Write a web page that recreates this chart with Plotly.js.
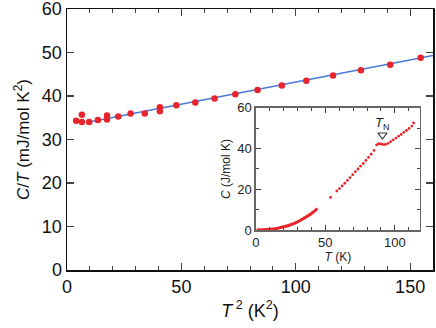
<!DOCTYPE html>
<html>
<head>
<meta charset="utf-8">
<script src="https://cdn.plot.ly/plotly-3.0.1.min.js"></script>
<style>
  body { margin: 0; background: #fff; }
  #plot { width: 436px; height: 328px; }
</style>
</head>
<body>
<div id="plot"></div>
<script>
// main panel: C/T vs T^2
var t2 = [4.0, 6.5, 6.5, 9.7, 13.5, 17.5, 17.5, 22.4, 27.8, 34.0, 40.6, 40.6, 47.8, 56.1, 64.5, 73.6, 83.3, 93.9, 104.6, 116.3, 128.5, 141.3, 154.6];
var cOverT = [34.3, 35.7, 34.0, 34.0, 34.5, 35.5, 34.6, 35.3, 36.0, 36.0, 37.4, 36.5, 37.9, 38.5, 39.4, 40.4, 41.4, 42.4, 43.5, 44.7, 45.9, 47.2, 48.8];

// linear fit
var fitT2 = [9.7, 160];
var fitCT = [34.0, 49.3];

// inset: C vs T, low-T part drawn as a dense curve
var lowT = [0.5, 5, 10, 15, 20, 25, 30, 35, 40, 44.3];
var lowC = [0.05, 0.12, 0.35, 0.8, 1.6, 2.6, 4.0, 6.0, 8.1, 10.6];

// inset: C vs T, high-T points
var highT = [53.8, 58.3, 60.2, 62.1, 64.0, 65.9, 67.8, 69.7, 71.6, 73.5, 75.4, 77.3, 79.2, 81.1, 83.0, 85.0, 86.9,
             88.3, 89.6, 90.9, 92.2, 93.5, 95.2, 97.0, 98.9, 100.8, 102.7, 104.6, 106.5, 108.4, 110.3, 112.2, 113.5];
var highC = [16.1, 19.2, 20.4, 21.7, 23.0, 24.4, 25.8, 27.2, 28.7, 30.0, 31.4, 32.7, 34.2, 35.7, 37.3, 39.1, 41.8,
             42.4, 42.3, 42.1, 42.0, 42.1, 42.6, 43.4, 44.3, 45.2, 46.1, 47.0, 48.0, 48.9, 49.9, 51.1, 52.6];

// Neel temperature marker
var tnT = [91.1];
var tnC = [46.7];

var red = '#e8242c';
var blue = '#4a78d8';

var trace1 = {
    x: fitT2, y: fitCT, mode: 'lines', type: 'scatter',
    line: {color: blue, width: 1.5}, xaxis: 'x', yaxis: 'y'
};
var trace2 = {
    x: t2, y: cOverT, mode: 'markers', type: 'scatter',
    marker: {color: red, size: 6.5}, xaxis: 'x', yaxis: 'y'
};
var trace3 = {
    x: lowT, y: lowC, mode: 'lines', type: 'scatter',
    line: {color: red, width: 3, shape: 'spline'}, xaxis: 'x2', yaxis: 'y2'
};
var trace4 = {
    x: highT, y: highC, mode: 'markers', type: 'scatter',
    marker: {color: red, size: 2.8}, xaxis: 'x2', yaxis: 'y2'
};
var trace5 = {
    x: tnT, y: tnC, mode: 'markers', type: 'scatter',
    marker: {color: '#333', size: 8, symbol: 'triangle-down-open', line: {width: 1.2}},
    xaxis: 'x2', yaxis: 'y2'
};

var data = [trace1, trace2, trace3, trace4, trace5];

var font = 'Liberation Sans, Arial, sans-serif';
var grey = '#666';

var layout = {
    width: 436, height: 328,
    margin: {l: 67, r: 3, t: 9, b: 58},
    paper_bgcolor: '#fff', plot_bgcolor: '#fff',
    showlegend: false,
    font: {family: font, size: 18, color: '#111'},
    xaxis: {
        domain: [0, 1], range: [0, 160],
        tickvals: [0, 50, 100, 150], ticks: 'inside', ticklen: 7, tickwidth: 1.2,
        minor: {dtick: 10, ticks: 'inside', ticklen: 4, tickwidth: 1},
        showline: true, linecolor: '#111', linewidth: 1.5, mirror: 'ticks',
        showgrid: false, zeroline: false,
        tickfont: {size: 18}, ticklabeloverflow: 'allow',
        title: {text: '<i>T</i><sup> 2</sup> (K<sup>2</sup>)', font: {size: 18}, standoff: 8}
    },
    yaxis: {
        domain: [0, 1], range: [0, 60],
        dtick: 10, ticks: 'inside', ticklen: 7, tickwidth: 1.2,
        showline: true, linecolor: '#111', linewidth: 1.5, mirror: 'ticks',
        showgrid: false, zeroline: false,
        tickfont: {size: 18}, ticklabeloverflow: 'allow',
        title: {text: '<i>C</i>/<i>T</i> (mJ/mol K<sup>2</sup>)', font: {size: 17}, standoff: 8}
    },
    xaxis2: {
        domain: [0.516, 0.964], range: [0, 118], anchor: 'y2',
        tickvals: [0, 50, 100], ticks: 'inside', ticklen: 5, tickwidth: 1,
        minor: {dtick: 10, ticks: 'inside', ticklen: 3, tickwidth: 1},
        showline: true, linecolor: grey, linewidth: 1.5, mirror: 'ticks',
        showgrid: false, zeroline: false,
        tickfont: {size: 13, color: '#222'},
        title: {text: '<i>T</i> (K)', font: {size: 12, color: '#222'}, standoff: 2}
    },
    yaxis2: {
        domain: [0.153, 0.621], range: [0, 60], anchor: 'x2',
        tickvals: [0, 20, 40, 60], ticks: 'inside', ticklen: 5, tickwidth: 1,
        minor: {dtick: 10, ticks: 'inside', ticklen: 3, tickwidth: 1},
        showline: true, linecolor: grey, linewidth: 1.5, mirror: 'ticks',
        showgrid: false, zeroline: false,
        tickfont: {size: 13, color: '#222'},
        title: {text: '<i>C</i> (J/mol K)', font: {size: 12, color: '#222'}, standoff: 4}
    },
    annotations: [{
        x: 91.1, y: 52.5, xref: 'x2', yref: 'y2',
        text: '<i>T</i><sub>N</sub>', showarrow: false,
        font: {size: 13, color: '#222'}
    }]
};

Plotly.newPlot('plot', data, layout, {staticPlot: true});
</script>
</body>
</html>
